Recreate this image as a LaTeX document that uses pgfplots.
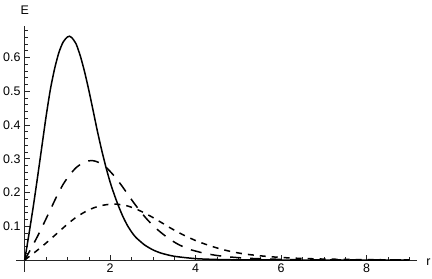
\documentclass[border=0pt]{standalone}
\usepackage{pgfplots}
\pgfplotsset{compat=1.18}
\usepackage{fontspec}
\setmainfont{Liberation Sans}
\begin{document}
\begin{tikzpicture}
\begin{axis}[
  x=42.75bp, y=337.5bp,
  xmin=-0.2, xmax=9.18, ymin=-0.035, ymax=0.693,
  axis lines=middle,
  axis line style={-, line width=0.8bp, black!85},
  xtick={2,4,6,8}, ytick={0.1,0.2,0.3,0.4,0.5,0.6},
  minor xtick={0.5,1,1.5,2.5,3,3.5,4.5,5,5.5,6.5,7,7.5,8.5,9},
  minor ytick={0.02,0.04,0.06,0.08,0.12,0.14,0.16,0.18,0.22,0.24,0.26,0.28,0.32,0.34,0.36,0.38,0.42,0.44,0.46,0.48,0.52,0.54,0.56,0.58,0.62,0.64,0.66,0.68},
  tick align=inside,
  major tick length=5bp, minor tick length=3bp,
  every tick/.style={black!85, line width=0.6bp},
  ticklabel style={font=\fontsize{12.5}{14}\selectfont, inner sep=0pt, black},
  /pgf/number format/assume math mode=true,
  xticklabel style={anchor=north, yshift=-4bp},
  yticklabel style={anchor=east, xshift=-4bp, /pgf/number format/fixed, /pgf/number format/precision=1},
  xlabel={r}, ylabel={E},
  every axis x label/.style={at={(axis description cs:1,0.048)}, anchor=west, inner sep=0pt, xshift=9bp, yshift=-2bp, font=\fontsize{12.5}{14}\selectfont},
  every axis y label/.style={at={(axis description cs:0.0213,1)}, anchor=base, inner sep=0pt, yshift=12bp, font=\fontsize{12.5}{14}\selectfont},
  clip=false,
]
\coordinate (O) at (axis cs:0,0);
\addplot[black, line width=1.5bp, smooth, tension=0.4] coordinates {
(0,0) (0.1,0.077) (0.2,0.158) (0.3,0.245) (0.4,0.335) (0.5,0.425) (0.6,0.505) (0.7,0.567) (0.8,0.615) (0.9,0.646) (1.0,0.661) (1.05,0.663) (1.1,0.659) (1.2,0.641) (1.3,0.605) (1.4,0.558) (1.5,0.503) (1.6,0.443) (1.7,0.382) (1.8,0.326) (1.9,0.275) (2.0,0.23) (2.1,0.192) (2.2,0.158) (2.3,0.128) (2.4,0.103) (2.5,0.083) (2.6,0.067) (2.8,0.045) (3.0,0.03) (3.2,0.02) (3.5,0.011) (4.0,0.004) (4.5,0.0015) (5.0,0.0005) (6.0,0) (9.0,0)
};
\addplot[black, line width=1.5bp, dash pattern=on 11bp off 9bp, smooth, tension=0.4] coordinates {
(0,0) (0.15,0.0342) (0.3,0.0702) (0.45,0.1089) (0.6,0.1489) (0.75,0.1889) (0.9,0.2244) (1.05,0.2520) (1.2,0.2733) (1.35,0.2871) (1.5,0.2938) (1.575,0.2947) (1.65,0.2929) (1.8,0.2849) (1.95,0.2689) (2.1,0.2480) (2.25,0.2236) (2.4,0.1969) (2.55,0.1698) (2.7,0.1449) (2.85,0.1222) (3.0,0.1022) (3.15,0.0853) (3.3,0.0702) (3.45,0.0569) (3.6,0.0458) (3.75,0.0369) (3.9,0.0298) (4.2,0.0200) (4.5,0.0133) (4.8,0.0089) (5.25,0.0049) (6.0,0.0018) (6.75,0.0007) (7.5,0.0002) (9.0,0)
};
\addplot[black, line width=1.5bp, dash pattern=on 6bp off 6bp, smooth, tension=0.4] coordinates {
(0,0) (0.2,0.0193) (0.4,0.0395) (0.6,0.0613) (0.8,0.0838) (1.0,0.1063) (1.2,0.1263) (1.4,0.1418) (1.6,0.1538) (1.8,0.1615) (2.0,0.1653) (2.1,0.1658) (2.2,0.1648) (2.4,0.1603) (2.6,0.1513) (2.8,0.1395) (3.0,0.1258) (3.2,0.1108) (3.4,0.0955) (3.6,0.0815) (3.8,0.0688) (4.0,0.0575) (4.2,0.0480) (4.4,0.0395) (4.6,0.0320) (4.8,0.0258) (5.0,0.0208) (5.2,0.0168) (5.6,0.0113) (6.0,0.0075) (6.4,0.0050) (7.0,0.0028) (8.0,0.0010) (9.0,0.0004)
};
\end{axis}
\pgfresetboundingbox
\path[use as bounding box] ([shift={(-24.7bp,-19bp)}]O) rectangle ([shift={(407.3bp,260bp)}]O);
\end{tikzpicture}
\end{document}
